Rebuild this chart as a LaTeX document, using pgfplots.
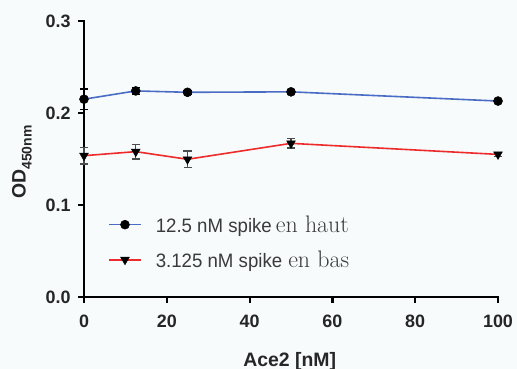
\documentclass[border=0pt]{standalone}
\usepackage{pgfplots}
\pgfplotsset{compat=1.18}
\usepackage{fontspec}
\newfontfamily\arial{Liberation Sans}
\newfontfamily\arialn[FakeStretch=0.96]{Liberation Sans}
\definecolor{bg}{HTML}{F8FBFC}
\definecolor{bl}{HTML}{4A6CC4}
\definecolor{rd}{HTML}{EE2B2B}
\definecolor{lg}{HTML}{3A3A3A}
\begin{document}
\begin{tikzpicture}
\path[use as bounding box, fill=bg] (-84bp,-72bp) rectangle (433bp,297bp);
\begin{axis}[
  at={(0,0)}, anchor=south west,
  scale only axis, width=414bp, height=276bp,
  xmin=0, xmax=100, ymin=0, ymax=0.3,
  axis lines*=left,
  axis line style={line width=2.2bp, black, line cap=rect},
  xtick={0,20,40,60,80,100},
  ytick={0,0.1,0.2,0.3},
  tick align=outside, major tick length=6bp,
  tick style={line width=2.2bp, black},
  /pgf/number format/assume math mode=true,
  ticklabel style={font=\arial\bfseries\fontsize{18}{18}\selectfont, text=black!85},
  xticklabel style={yshift=-8bp},
  yticklabel style={xshift=-4bp, /pgf/number format/.cd, fixed, fixed zerofill, precision=1},
  xlabel={Ace2 [nM]},
  ylabel={OD\raisebox{-0.3em}{\fontsize{14}{14}\selectfont 450nm}},
  label style={font=\arial\bfseries\fontsize{19.5}{19.5}\selectfont, text=black!85},
  xlabel style={at={(axis description cs:0.497,0)}, yshift=-64bp, anchor=center},
  ylabel style={at={(axis description cs:-0.15,0.489)}, anchor=center, rotate=0},
  legend style={at={(axis description cs:0.0507,0.31)}, anchor=north west, draw=none, fill=none,
    font=\arialn\fontsize{19.5}{19.5}\selectfont, text=lg, row sep=13bp},
  legend cell align=left,
  legend image code/.code={\draw[#1] (0bp,0bp) -- (32bp,0bp); \draw[#1, mark repeat=1] plot coordinates {(16bp,0bp)}; \path (44bp,0bp);},
  clip=false,
]
\addplot[color=bl, line width=1.6bp, mark=*, mark size=4.5bp, mark options={black, fill=black, line width=0.5bp},
  error bars/.cd, y dir=both, y explicit, error bar style={black, line width=1.2bp}, error mark options={rotate=90, mark size=4bp, black, line width=1.2bp}]
  coordinates {
  (0,0.215) +- (0,0.011)
  (12.5,0.224) +- (0,0.004)
  (25,0.2225) +- (0,0.002)
  (50,0.223) +- (0,0.002)
  (100,0.213) +- (0,0.002)
  };
\addlegendentry{12.5 nM spike{\fontspec{Latin Modern Roman}\fontsize{24}{24}\selectfont\hspace{4bp}en haut}}
\addplot[color=rd, line width=1.6bp, mark=triangle*, mark size=5bp, mark options={black, fill=black, rotate=180, line width=0.5bp},
  error bars/.cd, y dir=both, y explicit, error bar style={black!70, line width=1.2bp}, error mark options={rotate=90, mark size=4bp, black!70, line width=1.2bp}]
  coordinates {
  (0,0.1536) +- (0,0.009)
  (12.5,0.158) +- (0,0.008)
  (25,0.1497) +- (0,0.009)
  (50,0.167) +- (0,0.005)
  (100,0.155) +- (0,0.002)
  };
\addlegendentry{3.125 nM spike{\fontspec{Latin Modern Roman}\fontsize{24}{24}\selectfont\hspace{6bp}en bas}}
\end{axis}
\end{tikzpicture}
\end{document}
